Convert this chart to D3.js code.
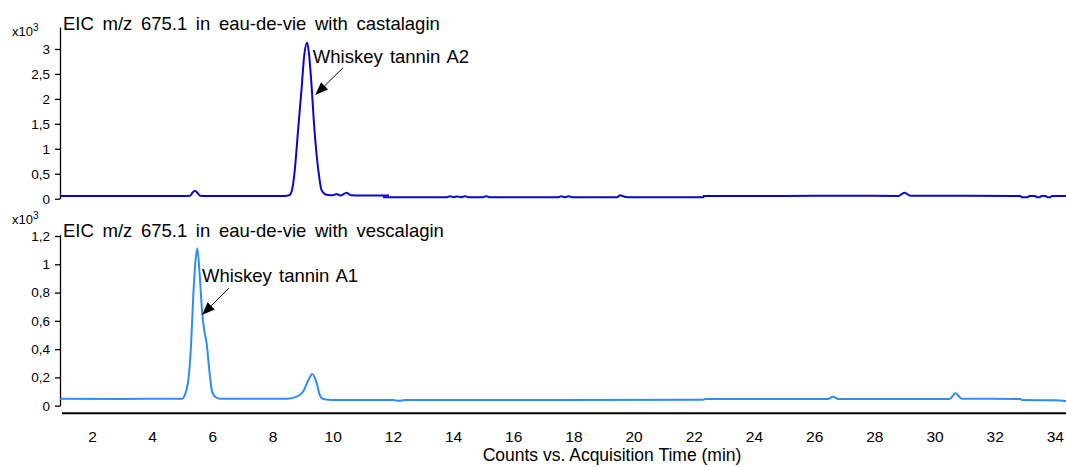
<!DOCTYPE html>
<html>
<head>
<meta charset="utf-8">
<script src="https://cdn.jsdelivr.net/npm/d3@7"></script>
<style>
  body { margin: 0; background: #fff; }
  svg { display: block; font-family: "Liberation Sans", Arial, sans-serif; }
  .axis path, .axis line { stroke: #000; }
  .axis text { fill: #000; }
</style>
</head>
<body>
<div id="chart"></div>
<script>
// time (min) / counts (x10^3)
// castalagin trace comes in three pieces (the detector steps)
const castalaginSeg1 = [
  [0.94, 0.055], [3.0, 0.054], [5.0, 0.055], [5.26, 0.06], [5.34, 0.12], [5.42, 0.16],
  [5.5, 0.12], [5.59, 0.06], [5.8, 0.055], [8.4, 0.055], [8.57, 0.074], [8.67, 0.24],
  [8.74, 0.575], [8.85, 1.38], [8.97, 2.24], [9.05, 2.85], [9.15, 3.13], [9.21, 2.91],
  [9.30, 2.24], [9.37, 1.58], [9.46, 0.91], [9.55, 0.44], [9.63, 0.17], [9.74, 0.094],
  [9.85, 0.075], [10.0, 0.07], [10.13, 0.095], [10.25, 0.065], [10.47, 0.12], [10.6, 0.07],
  [11.0, 0.065], [11.87, 0.065]
]
const castalaginSeg2 = [
  [11.67, 0.03], [13.8, 0.03], [13.9, 0.05], [14.0, 0.03], [14.15, 0.045], [14.25, 0.03],
  [14.4, 0.05], [14.5, 0.03], [15.0, 0.03], [15.1, 0.05], [15.2, 0.03], [17.5, 0.03],
  [17.6, 0.05], [17.7, 0.03], [17.85, 0.05], [17.95, 0.03], [19.45, 0.03], [19.55, 0.07],
  [19.65, 0.05], [19.8, 0.03], [22.35, 0.03]
]
const castalaginSeg3 = [
  [22.3, 0.055], [25.0, 0.055], [27.0, 0.06], [28.8, 0.055], [29.0, 0.12], [29.2, 0.06],
  [32.85, 0.055], [32.9, 0.03], [33.1, 0.03], [33.15, 0.055], [33.35, 0.055], [33.4, 0.03],
  [33.5, 0.03], [33.55, 0.055], [33.7, 0.055], [33.75, 0.03], [33.85, 0.03], [33.9, 0.055],
  [34.4, 0.055]
]
const vescalaginTrace = [
  [0.94, 0.05], [3.0, 0.048], [4.5, 0.05], [5.0, 0.05], [5.06, 0.063], [5.2, 0.18],
  [5.29, 0.42], [5.365, 0.77], [5.43, 1.0], [5.5, 1.113], [5.59, 0.89], [5.665, 0.65],
  [5.73, 0.535], [5.81, 0.44], [5.9, 0.25], [5.98, 0.11], [6.09, 0.063], [6.25, 0.05],
  [8.5, 0.05], [8.8, 0.064], [9.02, 0.1], [9.19, 0.18], [9.32, 0.224], [9.47, 0.158],
  [9.57, 0.076], [9.68, 0.047], [10.0, 0.04], [12.0, 0.04], [12.2, 0.035], [12.4, 0.04],
  [22.3, 0.042], [22.4, 0.047], [26.45, 0.047], [26.63, 0.064], [26.8, 0.047], [30.5, 0.047],
  [30.7, 0.088], [30.9, 0.05], [32.85, 0.047], [32.9, 0.04], [34.0, 0.038], [34.4, 0.033]
]

const xTicks = [2, 4, 6, 8, 10, 12, 14, 16, 18, 20, 22, 24, 26, 28, 30, 32, 34]
const topTicks = [0, 0.5, 1, 1.5, 2, 2.5, 3]
const botTicks = [0, 0.2, 0.4, 0.6, 0.8, 1, 1.2]

const topTitle = "EIC m/z 675.1 in eau-de-vie with castalagin"
const botTitle = "EIC m/z 675.1 in eau-de-vie with vescalagin"
const xTitle = "Counts vs. Acquisition Time (min)"

// label text, text anchor [t, v], arrow tail [t, v], arrow tip [t, v]
const topNote = { text: "Whiskey tannin A2", at: [9.34, 2.72], from: [10.34, 2.62], to: [9.42, 2.08] }
const botNote = { text: "Whiskey tannin A1", at: [5.655, 0.874], from: [6.55, 0.832], to: [5.655, 0.641] }

const width = 1066
const height = 467

const x = d3.scaleLinear().domain([0.937, 34.37]).range([60, 1066])
const yTop = d3.scaleLinear().domain([0, 3.44]).range([198.7, 27])
const yBot = d3.scaleLinear().domain([0, 1.21]).range([405.7, 234.6])

const svg = d3.select("#chart")
  .append("svg")
  .attr("width", width)
  .attr("height", height)

const fmt = d => String(d).replace(".", ",")

function yAxis(scale, ticks) {
  const g = svg.append("g")
    .attr("class", "axis")
    .attr("transform", "translate(60,0)")
    .call(d3.axisLeft(scale).tickValues(ticks).tickFormat(fmt).tickSize(5).tickSizeOuter(0).tickPadding(5))
  g.selectAll("text").style("font-size", "13.5px")
  g.select(".domain").style("stroke-width", 1.3)
  g.selectAll(".tick line").style("stroke-width", 1.3)
}
yAxis(yTop, topTicks)
yAxis(yBot, botTicks)

// bottom time axis
const xg = svg.append("g")
  .attr("class", "axis")
  .attr("transform", "translate(0,413.3)")
  .call(d3.axisBottom(x).tickValues(xTicks).tickSize(0).tickSizeOuter(0).tickPadding(18))
xg.select(".domain").style("stroke-width", 2).attr("d", "M62,0H1066")
xg.selectAll("text").style("font-size", "15.5px")

svg.append("text")
  .attr("x", 612)
  .attr("y", 461)
  .attr("text-anchor", "middle")
  .style("font-size", "17.5px")
  .text(xTitle)

// x10^3 multipliers
function mult(yBase) {
  const t = svg.append("text").attr("x", 12).attr("y", yBase).style("font-size", "13px")
  t.append("tspan").text("x10")
  t.append("tspan").attr("dy", -5).style("font-size", "10px").text("3")
}
mult(36)
mult(224)

function title(txt, yBase) {
  svg.append("text")
    .attr("x", 63)
    .attr("y", yBase)
    .style("font-size", "18.5px")
    .style("word-spacing", "3.5px")
    .text(txt)
}
title(topTitle, 30)
title(botTitle, 236.7)

// traces
function trace(data, yScale, color) {
  const line = d3.line()
    .x(d => x(d[0]))
    .y(d => yScale(d[1]))
    .curve(d3.curveMonotoneX)
  svg.append("path")
    .datum(data)
    .attr("d", line)
    .attr("fill", "none")
    .attr("stroke", color)
    .attr("stroke-width", 2)
    .attr("stroke-linejoin", "round")
}
trace(castalaginSeg1, yTop, "#0808d0")
trace(castalaginSeg2, yTop, "#0808d0")
trace(castalaginSeg3, yTop, "#0808d0")
trace(vescalaginTrace, yBot, "#2b8df5")

// annotations with arrows
function note(n, yScale) {
  svg.append("text")
    .attr("x", x(n.at[0]))
    .attr("y", yScale(n.at[1]))
    .style("font-size", "18.5px")
    .style("word-spacing", "2px")
    .text(n.text)
  const x1 = x(n.from[0]), y1 = yScale(n.from[1])
  const x2 = x(n.to[0]), y2 = yScale(n.to[1])
  const ang = Math.atan2(y2 - y1, x2 - x1)
  const len = 13, half = 5
  const bx = x2 - len * Math.cos(ang), by = y2 - len * Math.sin(ang)
  svg.append("line")
    .attr("x1", x1).attr("y1", y1)
    .attr("x2", bx).attr("y2", by)
    .attr("stroke", "#000")
    .attr("stroke-width", 1)
  svg.append("polygon")
    .attr("points", [
      [x2, y2],
      [bx + half * Math.sin(ang), by - half * Math.cos(ang)],
      [bx - half * Math.sin(ang), by + half * Math.cos(ang)]
    ].map(p => p.join(",")).join(" "))
    .attr("fill", "#000")
}
note(topNote, yTop)
note(botNote, yBot)
</script>
</body>
</html>
